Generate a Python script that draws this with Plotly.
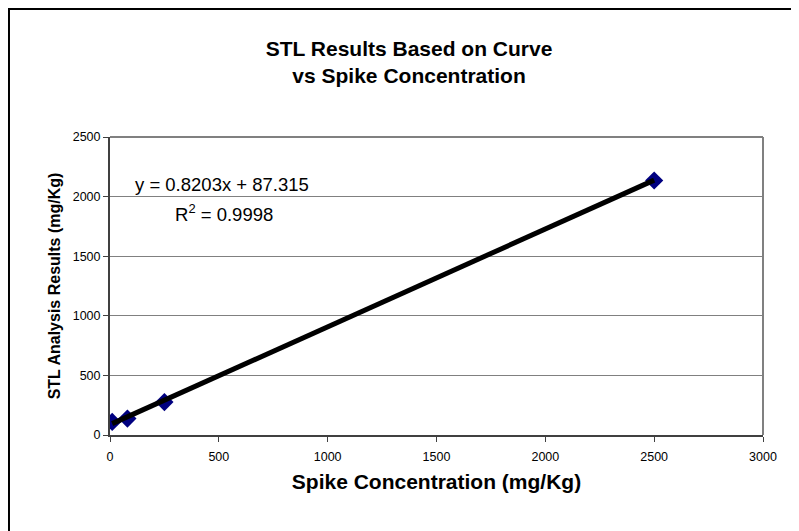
import plotly.graph_objects as go

# data
spike_conc = [10, 80, 250, 2500]
stl_results = [110, 138, 276, 2135]

# trendline as shown in chart label
slope = 0.8203
intercept = 87.315
trend_x = [min(spike_conc), max(spike_conc)]
trend_y = [slope * v + intercept for v in trend_x]

x_ticks = [0, 500, 1000, 1500, 2000, 2500, 3000]
y_ticks = [0, 500, 1000, 1500, 2000, 2500]

FONT = "Liberation Sans, Arial, sans-serif"

fig = go.Figure()
fig.add_trace(go.Scatter(x=spike_conc, y=stl_results, mode="markers",
                         marker=dict(symbol="diamond", size=14, color="#000080"),
                         showlegend=False))
fig.add_trace(go.Scatter(x=trend_x, y=trend_y, mode="lines",
                         line=dict(color="black", width=5), showlegend=False))

# page has an 8px body margin, so the figure is a bit smaller than the window
fig.update_layout(
    width=791, height=523,
    margin=dict(l=102, r=36, t=129, b=96),
    paper_bgcolor="white", plot_bgcolor="white",
    font=dict(family=FONT, color="black", size=12.5),
    title=dict(text="<b>STL Results Based on Curve<br>vs Spike Concentration</b>",
               x=0.507, xanchor="center", y=0.909, yanchor="middle",
               font=dict(size=21, family=FONT)),
)
fig.update_xaxes(range=[0, 3000], tickvals=x_ticks, ticks="outside", ticklen=5,
                 tickcolor="#404040", showline=True, linecolor="#404040", linewidth=2,
                 showgrid=False, zeroline=False, ticklabelstandoff=4,
                 title=dict(text="<b>Spike Concentration (mg/Kg)</b>", font=dict(size=21), standoff=11))
fig.update_yaxes(range=[0, 2500], tickvals=y_ticks, ticks="outside", ticklen=5,
                 tickcolor="#404040", showline=True, linecolor="#404040", linewidth=2,
                 showgrid=True, gridcolor="#808080", gridwidth=1, zeroline=False,
                 title=dict(text="<b>STL Analysis Results (mg/Kg)</b>", font=dict(size=16), standoff=8))

# gray top and right edges of plot area
fig.add_shape(type="line", xref="paper", yref="paper", x0=0, x1=1, y0=1, y1=1,
              line=dict(color="#808080", width=2))
fig.add_shape(type="line", xref="paper", yref="paper", x0=1, x1=1, y0=0, y1=1,
              line=dict(color="#808080", width=2))
# outer chart border (extends past the window on the right and bottom)
fig.add_shape(type="rect", xref="paper", yref="paper", x0=-0.1547, x1=1.2, y0=-0.6, y1=1.4295,
              line=dict(color="black", width=2), layer="below")

fig.add_annotation(x=0.035, y=0.839, xref="paper", yref="paper", xanchor="left", yanchor="middle",
                   text="y = 0.8203x + 87.315", showarrow=False, font=dict(size=18.5))
fig.add_annotation(x=0.0965, y=0.745, xref="paper", yref="paper", xanchor="left", yanchor="middle",
                   text="R<sup>2</sup> = 0.9998", showarrow=False, font=dict(size=18.5))

fig.write_html("out.html")
